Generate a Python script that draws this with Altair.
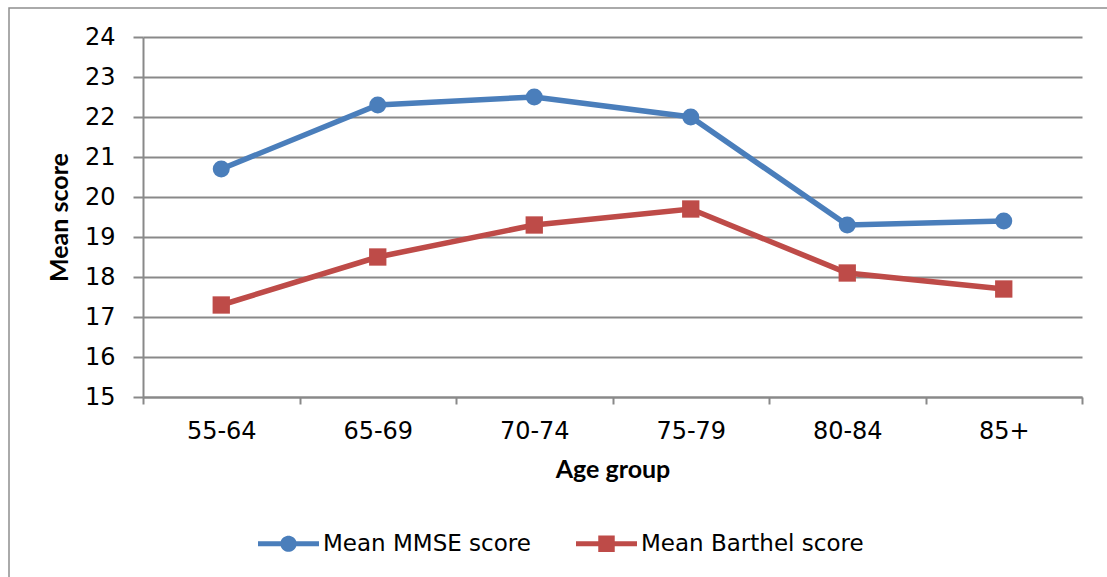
import altair as alt
import pandas as pd

# Mean scores by age group
age_groups = ["55-64", "65-69", "70-74", "75-79", "80-84", "85+"]
mmse_scores = [20.7, 22.3, 22.5, 22.0, 19.3, 19.4]
barthel_scores = [17.3, 18.5, 19.3, 19.7, 18.1, 17.7]
series_names = ["Mean MMSE score", "Mean Barthel score"]
series_colors = ["#4A7EBB", "#BE4B48"]
y_ticks = list(range(15, 25))

rows = []
for name, values in zip(series_names, [mmse_scores, barthel_scores]):
    for age, v in zip(age_groups, values):
        rows.append({"age": age, "score": v, "series": name})
df = pd.DataFrame(rows)

GRID = "#898989"
LABEL_FONT = "DejaVu Sans"
TITLE_FONT = "Lato"

x_enc = alt.X(
    "age:N",
    sort=age_groups,
    scale=alt.Scale(type="band", paddingInner=0, paddingOuter=0),
    axis=alt.Axis(
        title="Age group",
        labelAngle=0,
        tickBand="extent",
        tickSize=7,
        tickColor=GRID,
        tickWidth=2,
        domainColor=GRID,
        domainWidth=2,
        labelPadding=15,
        labelFont=LABEL_FONT,
        labelFontSize=24,
        labelColor="#000000",
        titleFont=TITLE_FONT,
        titleFontWeight="bold",
        titleFontSize=25,
        titleColor="#000000",
        titlePadding=14,
        grid=False,
    ),
)
y_enc = alt.Y(
    "score:Q",
    scale=alt.Scale(domain=[15, 24], nice=False, zero=False),
    axis=alt.Axis(
        title="Mean score",
        values=y_ticks,
        format="d",
        tickSize=10,
        tickColor=GRID,
        tickWidth=2,
        domainColor=GRID,
        domainWidth=2,
        gridColor=GRID,
        gridWidth=2,
        labelPadding=18,
        labelFont=LABEL_FONT,
        labelFontSize=24,
        labelColor="#000000",
        titleFont=TITLE_FONT,
        titleFontWeight="bold",
        titleFontSize=25,
        titleColor="#000000",
        titlePadding=12,
    ),
)

base = alt.Chart(df)


def series_layers(name, color, shape, size):
    sub = base.transform_filter(alt.datum.series == name)
    line = sub.mark_line(strokeWidth=5.5, color=color).encode(x=x_enc, y=y_enc)
    marks = sub.mark_point(
        shape=shape, filled=True, opacity=1, size=size, color=color
    ).encode(x=x_enc, y=y_enc)
    return [line, marks]


mmse_layers = series_layers(series_names[0], series_colors[0], "circle", 290)
barthel_layers = series_layers(series_names[1], series_colors[1], "square", 300)

# Legend symbols: a thick line segment with the marker in the middle
circle_line = (
    "M-1,-0.085 L-0.255,-0.085 A0.27,0.27 0 0,1 0.255,-0.085 L1,-0.085 "
    "L1,0.085 L0.255,0.085 A0.27,0.27 0 0,1 -0.255,0.085 L-1,0.085 Z"
)
square_line = (
    "M-1,-0.085 L-0.27,-0.085 L-0.27,-0.27 L0.27,-0.27 L0.27,-0.085 L1,-0.085 "
    "L1,0.085 L0.27,0.085 L0.27,0.27 L-0.27,0.27 L-0.27,0.085 L-1,0.085 Z"
)

legend_spec = alt.Legend(
    title=None,
    orient="none",
    direction="horizontal",
    legendX=115,
    legendY=476,
    symbolSize=3721,
    symbolStrokeWidth=0,
    symbolOpacity=1,
    labelFont=LABEL_FONT,
    labelFontSize=23,
    labelColor="#000000",
    labelOffset=4,
    columnPadding=45,
    labelLimit=400,
)

legend_layer = base.mark_point(filled=True, opacity=0).encode(
    x=x_enc,
    y=y_enc,
    color=alt.Color(
        "series:N",
        scale=alt.Scale(domain=series_names, range=series_colors),
        sort=series_names,
        legend=legend_spec,
    ),
    shape=alt.Shape(
        "series:N",
        scale=alt.Scale(domain=series_names, range=[circle_line, square_line]),
        sort=series_names,
        legend=legend_spec,
    ),
)

# Outer chart frame
frame = (
    alt.Chart(alt.Data(values=[{}]))
    .mark_rect(fillOpacity=0, stroke="#8f8f8f", strokeWidth=1.5, clip=False)
    .encode(
        x=alt.value(-134),
        x2=alt.value(1000),
        y=alt.value(-29),
        y2=alt.value(600),
    )
)

chart = (
    alt.layer(frame, *mmse_layers, *barthel_layers, legend_layer)
    .properties(
        width=939,
        height=360,
        autosize=alt.AutoSizeParams(type="none"),
        padding={"left": 143, "top": 37, "right": 25, "bottom": 180},
        background="#ffffff",
    )
    .configure_view(stroke=None)
)

chart.save("out.html", embed_options={"renderer": "svg", "actions": False})
